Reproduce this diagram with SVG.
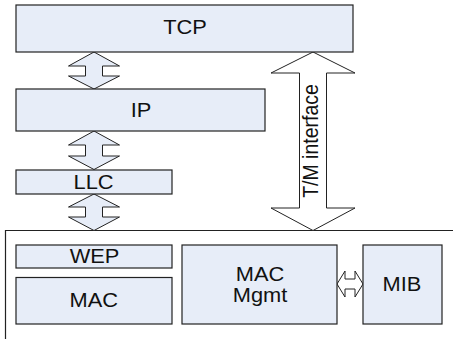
<svg xmlns="http://www.w3.org/2000/svg" width="453" height="339" viewBox="0 0 453 339">
<style>
.box{fill:#E7EDF8;stroke:#222;stroke-width:1.2}
.arr{fill:#E7EDF8;stroke:#222;stroke-width:1}
.warr{fill:#fff;stroke:#222;stroke-width:1}
.frame{fill:none;stroke:#222;stroke-width:1.2}
text{font-family:"Liberation Sans",Arial,sans-serif;font-size:19.5px;fill:#111;text-anchor:middle}
</style>
<rect width="453" height="339" fill="#fff"/>
<g id="frame"><path class="frame" d="M5.5,339 V230.5 H453"/></g>
<g id="connectors">
<path class="arr" d="M94,52 L119.5,66 L102.5,66 L102.5,76 L119.5,76 L94,89 L68.5,76 L85.5,76 L85.5,66 L68.5,66 Z"/>
<path class="arr" d="M94,131 L119.5,145 L102.5,145 L102.5,156 L119.5,156 L94,169.5 L68.5,156 L85.5,156 L85.5,145 L68.5,145 Z"/>
<path class="arr" d="M94,194 L119.5,207 L102.5,207 L102.5,217 L119.5,217 L94,230.5 L68.5,217 L85.5,217 L85.5,207 L68.5,207 Z"/>
<path class="warr" d="M313,52 L355,73 L326.5,73 L326.5,208 L355,208 L313,230.5 L271,208 L299.5,208 L299.5,73 L271,73 Z"/>
<path class="warr" d="M337,284 L345,271 L345,279 L355,279 L355,271 L363,284 L355,297 L355,289 L345,289 L345,297 Z"/>
<text transform="translate(318,141) rotate(-90) scale(1,1.1)" font-size="20">T/M interface</text>
</g>
<g id="tcp"><rect class="box" x="16" y="5" width="337" height="47"/><text transform="translate(185,34.3) scale(1.12,1)">TCP</text></g>
<g id="ip"><rect class="box" x="16" y="89" width="249" height="42"/><text transform="translate(141,117) scale(1.12,1)">IP</text></g>
<g id="llc"><rect class="box" x="16" y="170" width="156" height="24"/><text transform="translate(93.5,188.5) scale(1.12,1)">LLC</text></g>
<g id="wep"><rect class="box" x="16" y="245" width="156" height="23"/><text transform="translate(94.5,263.3) scale(1.12,1)">WEP</text></g>
<g id="mac"><rect class="box" x="16" y="277.5" width="156" height="46.5"/><text transform="translate(93.7,307.3) scale(1.12,1)">MAC</text></g>
<g id="macmgmt"><rect class="box" x="182" y="245" width="155" height="79"/><text transform="translate(260,280.7) scale(1.12,1)">MAC</text><text transform="translate(260,301.7) scale(1.12,1)">Mgmt</text></g>
<g id="mib"><rect class="box" x="363" y="245" width="79" height="79"/><text transform="translate(402,290.7) scale(1.12,1)">MIB</text></g>
</svg>
